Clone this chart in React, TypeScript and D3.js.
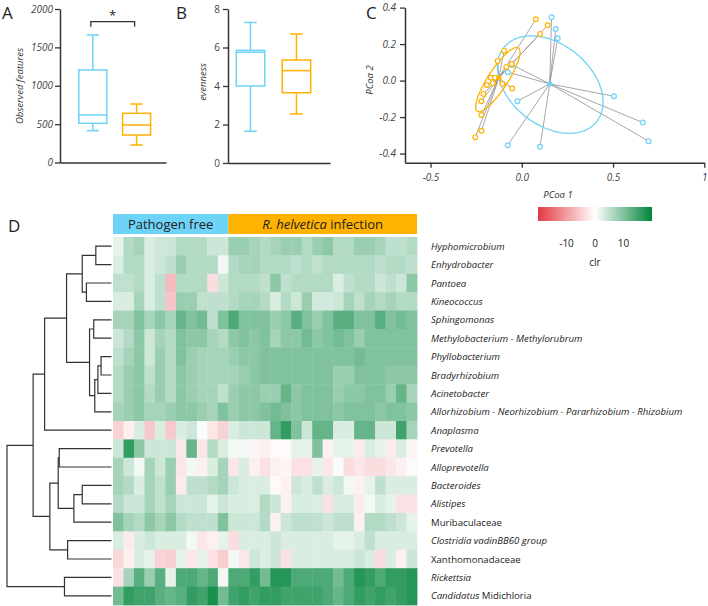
import { useEffect, useRef } from "react";
import * as d3 from "d3";

const groups = ["Pathogen free", "R. helvetica infection"];
const groupColors = ["#6dd3f7", "#ffb200"];
const groupSizes = [11, 18];

// box stats: [min, q1, median, q3, max]
const observedFeatures = [
  [415, 511, 619, 1206, 1662],
  [228, 358, 489, 641, 762],
];
const observedTicks = [0, 500, 1000, 1500, 2000];

const evenness = [
  [1.65, 4.0, 5.75, 5.85, 7.3],
  [2.55, 3.65, 4.8, 5.35, 6.7],
];
const evennessTicks = [0, 2, 4, 6, 8];

// PCoA coordinates
const pcoaFree = [
  [0.163, 0.347], [0.186, 0.283], [0.197, 0.232], [-0.053, 0.086],
  [-0.077, 0.046], [-0.024, -0.113], [-0.077, -0.354], [0.1, -0.363],
  [0.505, -0.086], [0.663, -0.23], [0.695, -0.332],
];
const pcoaInfected = [
  [0.077, 0.336], [0.142, 0.303], [0.1, 0.256], [-0.097, 0.164],
  [-0.132, 0.108], [-0.055, 0.091], [-0.085, 0.075], [-0.17, 0.016],
  [-0.146, 0.016], [-0.192, -0.024], [-0.159, -0.014], [-0.106, -0.018],
  [-0.053, -0.043], [-0.21, -0.073], [-0.221, -0.113], [-0.221, -0.188],
  [-0.221, -0.275], [-0.255, -0.31],
];
const centroids = [
  [0.153, -0.018],
  [-0.126, 0.016],
];
// [cx, cy, semi-major, semi-minor, angle in degrees]
const ellipses = [
  [0.156, -0.022, 0.3255, 0.2214, -38.7],
  [-0.1315, 0.0055, 0.207, 0.054, 57],
];
const pcoaXTicks = [-0.5, 0, 0.5, 1];
const pcoaYTicks = [-0.4, -0.2, 0, 0.2, 0.4];

const taxa = [
  "Hyphomicrobium",
  "Enhydrobacter",
  "Pantoea",
  "Kineococcus",
  "Sphingomonas",
  "Methylobacterium - Methylorubrum",
  "Phyllobacterium",
  "Bradyrhizobium",
  "Acinetobacter",
  "Allorhizobium - Neorhizobium - Pararhizobium - Rhizobium",
  "Anaplasma",
  "Prevotella",
  "Alloprevotella",
  "Bacteroides",
  "Alistipes",
  "Muribaculaceae",
  "Clostridia vadinBB60 group",
  "Xanthomonadaceae",
  "Rickettsia",
  "Candidatus Midichloria",
];
const plainTaxa = ["Muribaculaceae", "Xanthomonadaceae"];

// clr values, one row per taxon, 11 pathogen free + 18 infected samples
const clrValues = [
  [2, 6, 7, 3, 4, 4, 6, 6, 6, 4, 4, 8, 8, 7, 6, 7, 8, 8, 6, 8, 9, 6, 6, 8, 8, 7, 5, 5, 6],
  [3, 6, 6, 3, 4, 5, 8, 6, 6, 6, 1, 6, 7, 7, 6, 6, 6, 5, 6, 5, 6, 6, 6, 6, 6, 5, 6, 6, 5],
  [5, 5, 6, 3, 5, -7, 6, 6, 6, -3.5, 4, 6, 6, 6, 5, 9, 5, 6, 6, 6, 6, 3, 5, 6, 6, 4, 5, 4, 9],
  [3, 3, 7, 3, 5, -6, 8, 8, 5, 5, 5, 6, 7, 7, 6, 3, 6, 4, 8, 3.5, 3.5, 4, 7, 5, 7, 6, 7, 6, 6],
  [7, 7, 10, 7, 9, 7, 12, 10, 11, 5, 10, 14, 10, 10, 10, 8, 9, 13, 10, 8, 10, 13, 13, 10, 10, 13, 10, 11, 10],
  [4, 6, 9, 4, 7, 6, 10, 9, 9, 7, 6, 9, 10, 9, 10, 7, 9, 9, 11, 9, 10, 11, 10, 8, 10, 10, 10, 10, 10],
  [5, 7, 9, 4, 8, 6, 10, 8, 7, 7, 7, 8, 9, 9, 10, 10, 10, 10, 10, 10, 10, 10, 10, 11, 10, 10, 10, 10, 10],
  [6, 8, 9, 5, 8, 6, 9, 8, 7, 7, 7, 7, 8, 9, 10, 10, 10, 10, 10, 10, 10, 8, 8, 10, 10, 10, 9, 9, 9],
  [6, 8, 9, 6, 8, 6, 9, 8, 7, 7, 5, 8, 9, 9, 8, 8, 12, 9, 10, 10, 10, 8, 9, 9, 10, 10, 8, 12, 7],
  [7, 8, 9, 7, 7, 8, 9, 9, 8, 7, 10, 8, 9, 9, 10, 11, 10, 9, 10, 10, 10, 9, 10, 10, 10, 9, 10, 10, 9],
  [-4.5, -1.5, 3, -5.5, 3, -5.5, 3, 4, 0.5, -2.5, -4.5, 3, 4, 4, 4, 12, 16, 10, 4, 12, 12, 3, 3, 12, 12, 4, 4, 15, 7],
  [4, 16, 9, 4, 4, 4, -2.5, 12, -2.5, 6, 3, 1, 1, -1, -1.5, -0.5, -0.5, 2, 2, 10, -1.5, 2, 2, -2, 3, 2, -2, 3, -1],
  [7, 4, 1, 7, 4, 8, -2.5, 1, -1.5, 3, 7, -2.5, 3, -1.5, -3, -1.5, -1, -3, -3, 2, -2.5, 0.5, -3.5, -2.5, -3.5, -3.5, -2.5, -1.5, 0.5],
  [7, 6, 3, 7, 5, 8, -2, 5, 5, 6, 7, 4, 3, 3, 3, -0.5, -1.5, 4, 3, 5, 3, 4, 1, -1.5, 2, 5, 3, 3, 3],
  [6, 4, 4, 7, 5, 7, 4, 4, 4, 2, 4, 3, 3, 3, 6, 4, -1.5, 3, 3, 3, -3, 3, 3, -2, 1, 3, 2, -3, -3],
  [10, 7, 6, 9, 7, 9, 6, 5, 5, 5, 10, 4, 4, 4, 6, -1.5, 4, 5, 5, 5, 4, 5, 5, -1.5, 6, 6, 5, 4, 2],
  [3, -2, 3, 4, 3, 3, 3, 1, -2.5, -1.5, 2, -3.5, 3, 3, 3, 4, 3, 3, 3, 3, 3, 2, 2, 3, 5, 3, 3, 3, 3],
  [-4, -1.5, 3, 2, -4.5, -5, 2, -2.5, 2, -3, -5, 1, -2.5, 4, 3, 4, -3, 3, 3, 3, 3, 3, 3, 4, 3, -3.5, 3, -1.5, 4],
  [-3, 7, 13, 8, 13, 2, 14, 14, 12, 14, 1, 14, 14, 16, 11, 17, 17, 14, 14, 14, 14, 11, 14, 17, 16, 14, 16, 16, 17],
  [11, 16, 15, 15, 13, 12, 13, 16, 15, 18, 11, 15, 16, 15, 16, 16, 15, 15, 15, 15, 14, 12, 14, 16, 15, 16, 15, 16, 17],
];
const clrTicks = [-10, 0, 10];

// hclust style merges: negative = leaf (1-based), positive = earlier merge
const dendroMerges = [
  [-1, -2, 0.15],
  [-3, -4, 0.24],
  [1, 2, 0.28],
  [-5, -6, 0.17],
  [-7, -8, 0.1],
  [5, -9, 0.13],
  [6, -10, 0.16],
  [4, 7, 0.21],
  [3, 8, 0.43],
  [9, -11, 0.64],
  [-12, -13, 0.5],
  [-14, -15, 0.28],
  [12, -16, 0.36],
  [11, 13, 0.51],
  [-17, -18, 0.42],
  [14, 15, 0.59],
  [10, 16, 0.75],
  [-19, -20, 0.45],
  [17, 18, 1.0],
];

const FONT = "'Open Sans', sans-serif";
const AXIS = "#333";
const TXT = "#333";

function styleAxis(g) {
  g.select(".domain").attr("stroke", AXIS).attr("stroke-width", 1.5);
  g.selectAll(".tick line").attr("stroke", AXIS).attr("stroke-width", 1.3);
  g.selectAll(".tick text")
    .attr("fill", "#444")
    .style("font-family", FONT)
    .style("font-size", "10px");
}

function drawBoxes(g, xScale, yScale, stats) {
  const bw = xScale.bandwidth();
  stats.forEach((s, i) => {
    const x0 = xScale(groups[i]);
    const cx = x0 + bw / 2;
    const c = groupColors[i];
    const grp = g.append("g").attr("stroke", c).attr("stroke-width", 1.5).attr("fill", "none");
    grp.append("line").attr("x1", cx).attr("x2", cx).attr("y1", yScale(s[0])).attr("y2", yScale(s[1]));
    grp.append("line").attr("x1", cx).attr("x2", cx).attr("y1", yScale(s[3])).attr("y2", yScale(s[4]));
    grp.append("line").attr("x1", cx - bw * 0.22).attr("x2", cx + bw * 0.22).attr("y1", yScale(s[0])).attr("y2", yScale(s[0]));
    grp.append("line").attr("x1", cx - bw * 0.22).attr("x2", cx + bw * 0.22).attr("y1", yScale(s[4])).attr("y2", yScale(s[4]));
    grp.append("rect").attr("x", x0).attr("width", bw).attr("y", yScale(s[3])).attr("height", yScale(s[1]) - yScale(s[3])).attr("fill", "white");
    grp.append("line").attr("x1", x0).attr("x2", x0 + bw).attr("y1", yScale(s[2])).attr("y2", yScale(s[2]));
  });
}

export default function App() {
  const ref = useRef(null);

  useEffect(() => {
    const svg = d3.select(ref.current);
    svg.selectAll("*").remove();
    svg.append("rect").attr("width", 708).attr("height", 606).attr("fill", "white");

    // panel letters
    [["A", 2, 19], ["B", 176, 19], ["C", 366, 19], ["D", 8, 232]].forEach(([t, x, y]) => {
      svg.append("text").attr("x", x).attr("y", y).text(t)
        .style("font-family", FONT).style("font-size", "17px").attr("fill", "#222");
    });

    // ---------- A ----------
    const yA = d3.scaleLinear().domain([0, 2000]).range([162.5, 9]);
    const xA = d3.scaleBand().domain(groups).range([60, 166]).paddingInner(0.36).paddingOuter(0.39).align(0.55);
    const gA = svg.append("g");
    drawBoxes(gA, xA, yA, observedFeatures);
    gA.append("g").attr("transform", "translate(60,0)")
      .call(d3.axisLeft(yA).tickValues(observedTicks).tickFormat(d3.format("d")).tickSize(5).tickSizeOuter(0).tickPadding(2))
      .call(styleAxis);
    gA.selectAll(".tick text").style("font-style", "italic");
    gA.append("g").attr("transform", "translate(0,162.5)")
      .call(d3.axisBottom(xA).tickValues([]).tickSizeOuter(0))
      .call(styleAxis);
    gA.append("text").attr("transform", "translate(23,86) rotate(-90)").attr("text-anchor", "middle")
      .text("Observed features").style("font-family", FONT).style("font-size", "9.5px").style("font-style", "italic").attr("fill", TXT);
    const b0 = xA(groups[0]) + xA.bandwidth() / 2 - 2;
    const b1 = xA(groups[1]) + xA.bandwidth() / 2 - 2;
    gA.append("path")
      .attr("d", `M${b0},${yA(1770)}V${yA(1835)}H${b1}V${yA(1770)}`)
      .attr("fill", "none").attr("stroke", "#333").attr("stroke-width", 1.3);
    gA.append("text").attr("x", (b0 + b1) / 2).attr("y", 20).attr("text-anchor", "middle").text("*")
      .style("font-family", FONT).style("font-size", "13px").attr("fill", "#222");

    // ---------- B ----------
    const yB = d3.scaleLinear().domain([0, 8]).range([163, 9]);
    const xB = d3.scaleBand().domain(groups).range([228, 330]).paddingInner(0.38).paddingOuter(0.3).align(0.3);
    const gB = svg.append("g");
    drawBoxes(gB, xB, yB, evenness);
    gB.append("g").attr("transform", "translate(228,0)")
      .call(d3.axisLeft(yB).tickValues(evennessTicks).tickSize(5).tickSizeOuter(0).tickPadding(3))
      .call(styleAxis);
    gB.append("g").attr("transform", "translate(0,163)")
      .call(d3.axisBottom(xB).tickValues([]).tickSizeOuter(0))
      .call(styleAxis);
    gB.append("text").attr("transform", "translate(206,82) rotate(-90)").attr("text-anchor", "middle")
      .text("evenness").style("font-family", FONT).style("font-size", "9.5px").style("font-style", "italic").attr("fill", TXT);

    // ---------- C ----------
    const xC = d3.scaleLinear().domain([-0.64, 1.0]).range([405, 704.3]);
    const yC = d3.scaleLinear().domain([-0.45, 0.4]).range([162.7, 7.6]);
    const gC = svg.append("g");
    const sets = [pcoaFree, pcoaInfected];
    sets.forEach((pts, gi) => {
      pts.forEach((p) => {
        gC.append("line")
          .attr("x1", xC(p[0])).attr("y1", yC(p[1]))
          .attr("x2", xC(centroids[gi][0])).attr("y2", yC(centroids[gi][1]))
          .attr("stroke", "#8f8f8f").attr("stroke-width", 0.8);
      });
    });
    ellipses.forEach((e, gi) => {
      const [cx, cy, a, b, ang] = e;
      const phi = (ang * Math.PI) / 180;
      const pts = d3.range(0, 2 * Math.PI + 0.01, Math.PI / 90).map((t) => [
        xC(cx + a * Math.cos(t) * Math.cos(phi) - b * Math.sin(t) * Math.sin(phi)),
        yC(cy + a * Math.cos(t) * Math.sin(phi) + b * Math.sin(t) * Math.cos(phi)),
      ]);
      gC.append("path").attr("d", d3.line()(pts)).attr("fill", "none")
        .attr("stroke", groupColors[gi]).attr("stroke-width", 1.3);
    });
    sets.forEach((pts, gi) => {
      gC.selectAll(null).data(pts).join("circle")
        .attr("cx", (d) => xC(d[0])).attr("cy", (d) => yC(d[1])).attr("r", 2.4)
        .attr("fill", "white").attr("stroke", groupColors[gi]).attr("stroke-width", 1.2);
      gC.append("circle").attr("cx", xC(centroids[gi][0])).attr("cy", yC(centroids[gi][1])).attr("r", 2.6)
        .attr("fill", groupColors[gi]);
    });
    const fmt = (d) => (d === 1 ? "1" : d3.format(".1f")(d).replace("−", "-"));
    gC.append("g").attr("transform", "translate(0,162.7)")
      .call(d3.axisBottom(xC).tickValues(pcoaXTicks).tickFormat(fmt).tickSize(5).tickSizeOuter(0).tickPadding(6))
      .call(styleAxis);
    gC.append("g").attr("transform", "translate(405,0)")
      .call(d3.axisLeft(yC).tickValues(pcoaYTicks).tickFormat(fmt).tickSize(5).tickSizeOuter(0).tickPadding(4))
      .call(styleAxis);
    gC.selectAll(".tick text").style("font-style", "italic");
    gC.append("text").attr("x", 558).attr("y", 198).attr("text-anchor", "middle").text("PCoa 1")
      .style("font-family", FONT).style("font-size", "9.5px").style("font-style", "italic").attr("fill", TXT);
    gC.append("text").attr("transform", "translate(373,80) rotate(-90)").attr("text-anchor", "middle").text("PCoa 2")
      .style("font-family", FONT).style("font-size", "9.5px").style("font-style", "italic").attr("fill", TXT);

    // ---------- D heatmap ----------
    const nSamples = d3.sum(groupSizes);
    const xH = d3.scaleBand().domain(d3.range(nSamples)).range([113, 417]);
    const yH = d3.scaleBand().domain(taxa).range([237, 605]);
    const color = d3.scaleLinear()
      .domain([-20, 0, 20])
      .range(["#e23a44", "#ffffff", "#00843a"])
      .clamp(true);
    const gH = svg.append("g");
    clrValues.forEach((row, ri) => {
      row.forEach((v, ci) => {
        gH.append("rect")
          .attr("x", xH(ci)).attr("y", yH(taxa[ri]))
          .attr("width", xH.bandwidth() + 0.4).attr("height", yH.bandwidth() + 0.4)
          .attr("fill", color(v));
      });
    });

    // group header
    let start = 0;
    groupSizes.forEach((n, gi) => {
      const x0 = xH(start);
      const x1 = start + n >= nSamples ? xH.range()[1] : xH(start + n);
      gH.append("rect").attr("x", x0).attr("y", 214).attr("width", x1 - x0).attr("height", 20).attr("fill", groupColors[gi]);
      const t = gH.append("text").attr("x", (x0 + x1) / 2).attr("y", 229).attr("text-anchor", "middle")
        .style("font-family", FONT).style("font-size", "13px").attr("fill", "#222");
      if (gi === 0) {
        t.text(groups[0]);
      } else {
        t.append("tspan").style("font-style", "italic").text("R. helvetica");
        t.append("tspan").text(" infection");
      }
      start += n;
    });

    // row labels
    taxa.forEach((name) => {
      const t = gH.append("text").attr("x", 431).attr("y", yH(name) + yH.bandwidth() / 2 + 3.5)
        .style("font-family", FONT).style("font-size", "9.6px").attr("fill", "#222");
      if (name.startsWith("Candidatus ")) {
        t.append("tspan").style("font-style", "italic").text("Candidatus");
        t.append("tspan").text(" " + name.slice(11));
      } else {
        t.text(name).style("font-style", plainTaxa.includes(name) ? "normal" : "italic");
      }
    });

    // dendrogram
    const xD = d3.scaleLinear().domain([0, 1]).range([111.5, 7]);
    const nodes = [];
    const getNode = (id) => {
      if (id < 0) {
        const name = taxa[-id - 1];
        return { y: yH(name) + yH.bandwidth() / 2, h: 0 };
      }
      return nodes[id - 1];
    };
    const gD = svg.append("g").attr("fill", "none").attr("stroke", "#333").attr("stroke-width", 1.2);
    dendroMerges.forEach(([a, b, h]) => {
      const na = getNode(a);
      const nb = getNode(b);
      gD.append("path").attr("d", `M${xD(na.h)},${na.y}H${xD(h)}V${nb.y}H${xD(nb.h)}`);
      nodes.push({ y: (na.y + nb.y) / 2, h });
    });

    // legend
    const xL = d3.scaleLinear().domain([-20, 20]).range([538, 652]);
    const defs = svg.append("defs");
    const grad = defs.append("linearGradient").attr("id", "clrGrad");
    d3.range(-20, 20.1, 2).forEach((v) => {
      grad.append("stop").attr("offset", `${((v + 20) / 40) * 100}%`).attr("stop-color", color(v));
    });
    svg.append("rect").attr("x", xL(-20)).attr("y", 207).attr("width", xL(20) - xL(-20)).attr("height", 14)
      .attr("fill", "url(#clrGrad)");
    clrTicks.forEach((v) => {
      svg.append("text").attr("x", xL(v)).attr("y", 247).attr("text-anchor", "middle")
        .text(v < 0 ? "-" + Math.abs(v) : String(v))
        .style("font-family", FONT).style("font-size", "10px").attr("fill", "#222");
    });
    svg.append("text").attr("x", xL(0)).attr("y", 266).attr("text-anchor", "middle").text("clr")
      .style("font-family", FONT).style("font-size", "10px").attr("fill", "#222");
  }, []);

  return (
    <svg
      ref={ref}
      width={708}
      height={606}
      style={{ position: "absolute", left: 0, top: 0 }}
    />
  );
}
